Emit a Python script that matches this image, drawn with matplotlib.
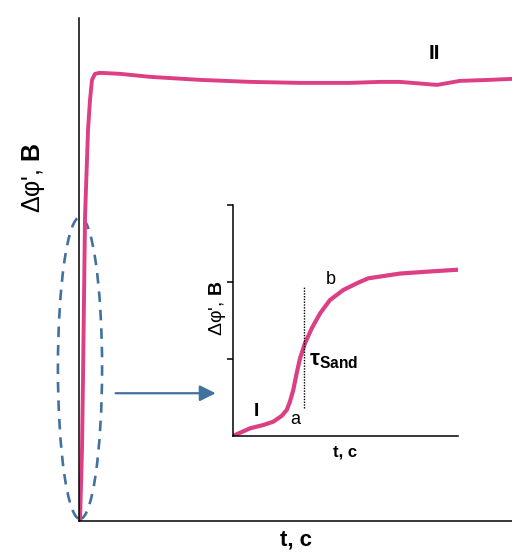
import matplotlib.pyplot as plt
from matplotlib.patches import Ellipse

plt.rcParams['font.family'] = ['Liberation Sans', 'DejaVu Sans']
plt.rcParams['mathtext.fontset'] = 'custom'
plt.rcParams['mathtext.rm'] = 'Liberation Sans'
plt.rcParams['mathtext.it'] = 'Liberation Sans:italic'
plt.rcParams['mathtext.bf'] = 'Liberation Sans:bold'

# main curve (t, arbitrary units ; delta phi, fraction of axis)
t_main = [0.23, 0.69, 0.92, 1.39, 2.08, 2.54, 3.0, 3.70, 4.85, 9.47, 16.4, 27.9,
          39.5, 51.0, 62.6, 69.5, 74.1, 82.7, 88.0, 94.9, 100.0]
phi_main = [0.0, 0.141, 0.280, 0.604, 0.777, 0.837, 0.877, 0.889, 0.891, 0.889,
            0.883, 0.877, 0.873, 0.871, 0.871, 0.873, 0.873, 0.867, 0.875, 0.877, 0.879]

# inset curve (zoom on the first part of the transient)
t_ins = [0.09, 0.76, 1.35, 1.79, 2.16, 2.39, 2.53, 2.68, 2.83, 2.98, 3.2, 3.5,
         3.87, 4.31, 4.9, 5.5, 6.01, 7.42, 8.9, 10.0]
phi_ins = [0.013, 0.10, 0.143, 0.186, 0.26, 0.338, 0.445, 0.597, 0.814, 1.009,
           1.204, 1.398, 1.593, 1.766, 1.896, 1.983, 2.048, 2.11, 2.14, 2.16]
tau_sand = 3.17

pink = '#DC3F84'
blue = '#41729F'

fig = plt.figure(figsize=(5.12, 5.59), dpi=100)
ax = fig.add_axes([0.1543, 0.068, 0.8457, 0.8998])
ax.plot(t_main, phi_main, color=pink, lw=2.8, solid_capstyle='round',
        solid_joinstyle='round')
ax.set_xlim(0, 100)
ax.set_ylim(0, 1)
ax.spines['top'].set_visible(False)
ax.spines['right'].set_visible(False)
ax.spines['left'].set_linewidth(1.1)
ax.spines['bottom'].set_linewidth(1.1)
ax.set_xticks([])
ax.set_yticks([])
ax.set_xlabel('t, c', fontsize=16, fontweight='bold', labelpad=6)
ax.set_ylabel(r"Δφ', $\mathbf{B}$", fontsize=18)
ax.yaxis.set_label_coords(-0.075, 0.682)
ax.text(82.0, 0.93, 'II', fontsize=15, fontweight='bold', ha='center', va='center')

ell = Ellipse((0.23, 0.304), 10.2, 0.60, fill=False, edgecolor=blue, lw=1.9,
              linestyle=(0, (4, 3)), clip_on=False)
ax.add_patch(ell)
ax.annotate('', xy=(32.2, 0.254), xytext=(7.8, 0.254),
            arrowprops=dict(arrowstyle='-|>', color=blue, lw=1.6, mutation_scale=24))

ins = fig.add_axes([0.455, 0.22, 0.4395, 0.4132])
ins.plot(t_ins, phi_ins, color=pink, lw=3.0, solid_capstyle='round',
         solid_joinstyle='round')
ins.set_xlim(0, 10)
ins.set_ylim(0, 3)
ins.spines['top'].set_visible(False)
ins.spines['right'].set_visible(False)
ins.spines['left'].set_linewidth(1.1)
ins.spines['bottom'].set_linewidth(1.1)
ins.set_xticks([])
ins.set_yticks([1, 2, 3])
ins.set_yticklabels([])
ins.tick_params(axis='y', length=4, width=1.1, direction='out')
ins.set_xlabel('t, c', fontsize=12, fontweight='bold', labelpad=6)
ins.set_ylabel(r"Δφ', $\mathbf{B}$", fontsize=14)
ins.yaxis.set_label_coords(-0.02, 0.554)
ins.vlines(tau_sand, 0.36, 1.94, colors='black', linestyles=(0, (1, 1)), lw=1.0)
ins.text(4.34, 2.03, 'b', fontsize=13, ha='center', va='center')
ins.text(2.76, 0.21, 'a', fontsize=13, ha='center', va='center')
ins.text(1.05, 0.32, 'I', fontsize=14, fontweight='bold', ha='center', va='center')
ins.text(3.4, 0.98, r'$\mathbf{\tau}_{\mathbf{Sand}}$', fontsize=16, ha='left', va='center')

fig.savefig('out.png', dpi=100)
